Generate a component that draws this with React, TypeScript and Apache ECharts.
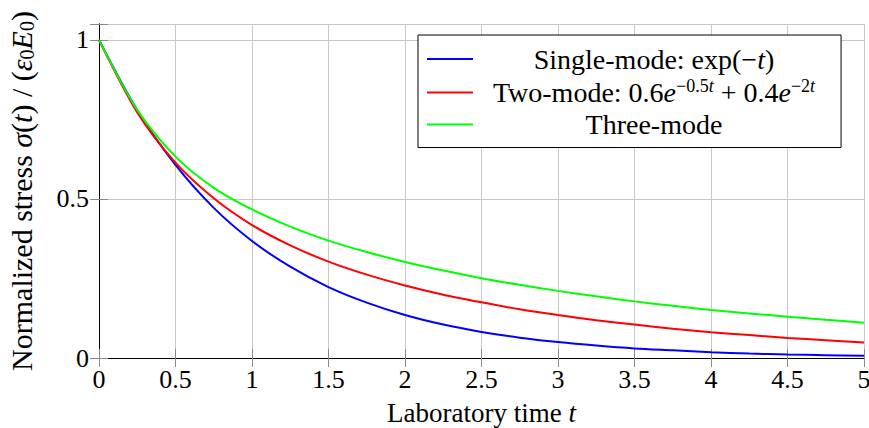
import React, { useEffect, useRef } from 'react';
import * as echarts from 'echarts';

const tValues = [0, 0.25, 0.5, 0.75, 1, 1.25, 1.5, 1.75, 2, 2.25, 2.5, 2.75, 3, 3.25, 3.5, 3.75, 4, 4.25, 4.5, 4.75, 5];
const singleMode = [1, 0.779, 0.607, 0.472, 0.368, 0.287, 0.223, 0.174, 0.135, 0.105, 0.082, 0.064, 0.05, 0.039, 0.03, 0.024, 0.018, 0.014, 0.011, 0.009, 0.007];
const twoMode = [1, 0.772, 0.614, 0.502, 0.418, 0.354, 0.303, 0.262, 0.228, 0.199, 0.175, 0.153, 0.135, 0.119, 0.105, 0.092, 0.081, 0.072, 0.063, 0.056, 0.049];
const threeMode = [1, 0.78, 0.633, 0.535, 0.467, 0.413, 0.369, 0.333, 0.302, 0.275, 0.251, 0.23, 0.211, 0.194, 0.178, 0.164, 0.151, 0.14, 0.13, 0.12, 0.111];

const seriesNames = ['Single-mode: exp(−t)', 'Two-mode: 0.6e^(−0.5t) + 0.4e^(−2t)', 'Three-mode'];
const seriesColors = ['#0000ff', '#ff0000', '#00ff00'];
const legendRich = [
  '{r|Single-mode: exp(−}{i|t}{r|)}',
  '{r|Two-mode: 0.6}{i|e}{s|−0.5}{si|t}{r| + 0.4}{i|e}{s|−2}{si|t}',
  '{r|Three-mode}',
];

const FONT = '"Liberation Serif", "Times New Roman", serif';
const LFS = 28;
const TFS = 26;

export default function App() {
  const ref = useRef<HTMLDivElement>(null);
  useEffect(() => {
    if (!ref.current) return;
    const chart = echarts.init(ref.current, null, { renderer: 'svg' });
    const allSeries = [singleMode, twoMode, threeMode];
    const tickStyle = { show: true, inside: true, length: 9, lineStyle: { color: '#8a8a8a', width: 1 } };
    const axisLine = { show: true, lineStyle: { color: '#000', width: 1 } };
    const splitLine = { show: true, lineStyle: { color: '#c8c8c8', width: 1 } };
    const richBase = {
      r: { fontFamily: FONT, fontSize: LFS, color: '#000', align: 'center', lineHeight: 31 },
      i: { fontFamily: FONT, fontSize: LFS, fontStyle: 'italic', color: '#000', align: 'center', lineHeight: 31 },
      s: { fontFamily: FONT, fontSize: 18, color: '#000', align: 'center', verticalAlign: 'top', lineHeight: 17 },
      si: { fontFamily: FONT, fontSize: 18, fontStyle: 'italic', color: '#000', align: 'center', verticalAlign: 'top', lineHeight: 17 },
    };
    chart.setOption({
      animation: false,
      backgroundColor: '#fff',
      grid: { left: 99, right: 5, top: 24, bottom: 70, containLabel: false, outerBoundsMode: 'none' },
      legend: {
        data: seriesNames,
        orient: 'vertical',
        left: 418,
        top: 35,
        padding: [10, 26, 9, 9],
        itemGap: 4,
        itemWidth: 46,
        itemHeight: 2,
        icon: 'rect',
        backgroundColor: '#fff',
        borderColor: '#000',
        borderWidth: 1,
        borderRadius: 0,
        formatter: (name: string) => legendRich[seriesNames.indexOf(name)],
        textStyle: { width: 352, fontFamily: FONT, fontSize: LFS, color: '#000', rich: richBase },
      },
      xAxis: [
        {
          type: 'value', min: 0, max: 5, interval: 0.5,
          name: '{r|Laboratory time }{i|t}', nameLocation: 'middle', nameGap: 42,
          nameTextStyle: {
            fontFamily: FONT, fontSize: 27, color: '#000', lineHeight: 25,
            rich: {
              r: { fontFamily: FONT, fontSize: 27, color: '#000', lineHeight: 25 },
              i: { fontFamily: FONT, fontSize: 27, fontStyle: 'italic', color: '#000', lineHeight: 25 },
            },
          },
          axisLine, axisTick: tickStyle, splitLine,
          axisLabel: { fontFamily: FONT, fontSize: TFS, color: '#000', margin: 8, formatter: (v: number) => String(v) },
        },
        {
          type: 'value', min: 0, max: 5, interval: 0.5, position: 'top',
          axisLine, axisTick: tickStyle, splitLine: { show: false }, axisLabel: { show: false },
        },
      ],
      yAxis: [
        {
          type: 'value', min: 0, max: 1.05, interval: 0.5,
          name: '{r|Normalized stress }{i|σ}{r|(}{i|t}{r|) / (}{i|ε}{b|0}{i|E}{b|0}{r|)}',
          nameLocation: 'middle', nameGap: 62,
          nameTextStyle: {
            fontFamily: FONT, fontSize: 30, color: '#000',
            rich: {
              r: { fontFamily: FONT, fontSize: 30, color: '#000', lineHeight: 32 },
              i: { fontFamily: FONT, fontSize: 30, fontStyle: 'italic', color: '#000', lineHeight: 32 },
              b: { fontFamily: FONT, fontSize: 20, color: '#000', verticalAlign: 'bottom', lineHeight: 20 },
            },
          },
          axisLine, axisTick: tickStyle, splitLine,
          axisLabel: {
            fontFamily: FONT, fontSize: TFS, color: '#000', margin: 10,
            formatter: (v: number) => (v === 0 || v === 0.5 || v === 1 ? String(v) : ''),
          },
        },
        {
          type: 'value', min: 0, max: 1.05, interval: 0.5, position: 'right',
          axisLine, axisTick: tickStyle, splitLine: { show: false }, axisLabel: { show: false },
        },
      ],
      series: allSeries.map((vals, k) => ({
        name: seriesNames[k],
        type: 'line',
        xAxisIndex: 0,
        yAxisIndex: 0,
        smooth: 0.3,
        showSymbol: false,
        symbol: 'none',
        color: seriesColors[k],
        lineStyle: { color: seriesColors[k], width: 2 },
        data: tValues.map((t, i) => [t, vals[i]]),
      })),
    });
    return () => chart.dispose();
  }, []);
  return <div ref={ref} style={{ width: 869, height: 428, position: 'absolute', left: 0, top: 0 }} />;
}
